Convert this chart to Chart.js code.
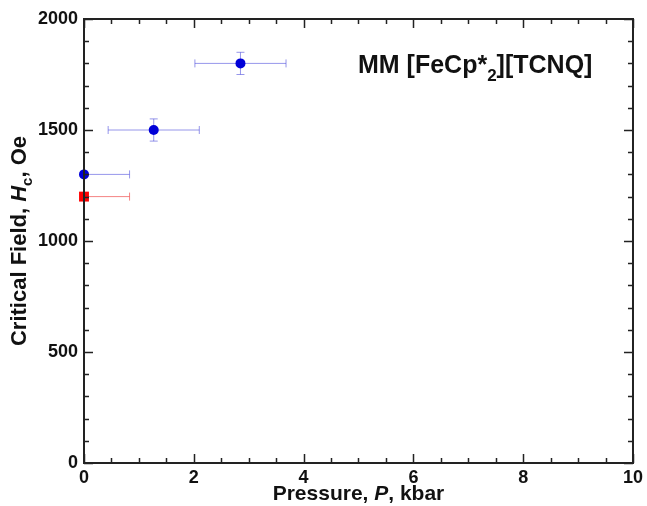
<!DOCTYPE html>
<html>
<head>
<meta charset="utf-8">
<script src="https://cdn.jsdelivr.net/npm/chart.js@4/dist/chart.umd.min.js"></script>
<style>
  html, body { margin: 0; padding: 0; background: #fff; }
  #wrap { width: 647px; height: 506px; }
</style>
</head>
<body>
<div id="wrap"><canvas id="c" width="647" height="506"></canvas></div>
<script>
// data
const bluePressure = [0, 1.27, 2.85];
const blueField    = [1300, 1500, 1800];
const bluePErr     = [0.83, 0.83, 0.83];
const blueFErr     = [0, 50, 50];

const redPressure  = [0];
const redField     = [1200];
const redPErr      = [0.83];
const redFErr      = [0];

const xMajor = [0, 2, 4, 6, 8, 10];
const yMajor = [0, 500, 1000, 1500, 2000];
const xMinorStep = 0.5;
const yMinorStep = 100;

const FONT = '"Liberation Sans", Arial, sans-serif';

function toPoints(xs, ys) {
  let pts = [];
  for (let i = 0; i < xs.length; i++) pts.push({x: xs[i], y: ys[i]});
  return pts;
}

// draw text made of several parts (for italic / subscript)
function drawParts(ctx, parts, x, y, align) {
  let total = 0;
  for (const p of parts) { ctx.font = p.font; total += ctx.measureText(p.text).width; }
  let cx = x;
  if (align === 'center') cx = x - total / 2;
  ctx.textAlign = 'left';
  ctx.textBaseline = 'alphabetic';
  for (const p of parts) {
    ctx.font = p.font;
    ctx.fillText(p.text, cx, y + (p.dy || 0));
    cx += ctx.measureText(p.text).width;
  }
}

const errorBars = {
  id: 'errorBars',
  beforeDatasetsDraw(chart) {
    const ctx = chart.ctx, a = chart.chartArea;
    const xs = chart.scales.x, ys = chart.scales.y;
    ctx.save();
    ctx.beginPath();
    ctx.rect(a.left, a.top, a.right - a.left, a.bottom - a.top);
    ctx.clip();
    chart.data.datasets.forEach(ds => {
      ctx.strokeStyle = ds.errColor;
      ctx.lineWidth = 1;
      ds.data.forEach((p, i) => {
        const px = xs.getPixelForValue(p.x), py = ys.getPixelForValue(p.y);
        const ex = ds.xErr[i], ey = ds.yErr[i];
        const cap = 4;
        if (ex) {
          const l = xs.getPixelForValue(p.x - ex), r = xs.getPixelForValue(p.x + ex);
          ctx.beginPath();
          ctx.moveTo(l, py); ctx.lineTo(r, py);
          ctx.moveTo(l, py - cap); ctx.lineTo(l, py + cap);
          ctx.moveTo(r, py - cap); ctx.lineTo(r, py + cap);
          ctx.stroke();
        }
        if (ey) {
          const t = ys.getPixelForValue(p.y + ey), b = ys.getPixelForValue(p.y - ey);
          ctx.beginPath();
          ctx.moveTo(px, t); ctx.lineTo(px, b);
          ctx.moveTo(px - cap, t); ctx.lineTo(px + cap, t);
          ctx.moveTo(px - cap, b); ctx.lineTo(px + cap, b);
          ctx.stroke();
        }
      });
    });
    ctx.restore();
  }
};

const frame = {
  id: 'frame',
  afterDraw(chart) {
    const ctx = chart.ctx, a = chart.chartArea;
    const xs = chart.scales.x, ys = chart.scales.y;
    ctx.save();
    ctx.strokeStyle = '#222';
    ctx.lineWidth = 1.5;
    ctx.beginPath();
    for (let v = 0; v <= 10.001; v += xMinorStep) {
      const px = Math.round(xs.getPixelForValue(v)) + 0.5;
      const len = xMajor.includes(Math.round(v * 10) / 10) ? 9 : 5;
      ctx.moveTo(px, a.bottom); ctx.lineTo(px, a.bottom - len);
      ctx.moveTo(px, a.top); ctx.lineTo(px, a.top + len);
    }
    for (let v = 0; v <= 2000; v += yMinorStep) {
      const py = Math.round(ys.getPixelForValue(v)) + 0.5;
      const len = yMajor.includes(v) ? 9 : 5;
      ctx.moveTo(a.left, py); ctx.lineTo(a.left + len, py);
      ctx.moveTo(a.right, py); ctx.lineTo(a.right - len, py);
    }
    ctx.stroke();
    ctx.lineWidth = 2;
    ctx.strokeRect(a.left, a.top, a.right - a.left, a.bottom - a.top);

    ctx.fillStyle = '#111';
    // in-plot label
    drawParts(ctx, [
      {text: 'MM [FeCp*', font: 'bold 25px ' + FONT},
      {text: '2', font: 'bold 17px ' + FONT, dy: 8},
      {text: '][TCNQ]', font: 'bold 25px ' + FONT}
    ], 358, 73, 'left');
    // x title
    drawParts(ctx, [
      {text: 'Pressure, ', font: 'bold 21px ' + FONT},
      {text: 'P', font: 'italic bold 21px ' + FONT},
      {text: ', kbar', font: 'bold 21px ' + FONT}
    ], (a.left + a.right) / 2, 500, 'center');
    // y title
    ctx.translate(26, (a.top + a.bottom) / 2);
    ctx.rotate(-Math.PI / 2);
    drawParts(ctx, [
      {text: 'Critical Field, ', font: 'bold 22px ' + FONT},
      {text: 'H', font: 'italic bold 22px ' + FONT},
      {text: 'c', font: 'bold 15px ' + FONT, dy: 6},
      {text: ', Oe', font: 'bold 22px ' + FONT}
    ], 0, 0, 'center');
    ctx.restore();
  }
};

const ctx = document.getElementById('c').getContext('2d');
const chart = new Chart(ctx, {
  type: 'scatter',
  data: {
    datasets: [
      {
        label: 'blue',
        data: toPoints(bluePressure, blueField),
        xErr: bluePErr, yErr: blueFErr,
        errColor: 'rgba(80,80,220,0.6)',
        pointStyle: 'circle', pointRadius: 5, pointHoverRadius: 5,
        backgroundColor: '#0000d8', borderColor: '#0000d8', borderWidth: 0,
        clip: false
      },
      {
        label: 'red',
        data: toPoints(redPressure, redField),
        xErr: redPErr, yErr: redFErr,
        errColor: 'rgba(240,80,80,0.7)',
        pointStyle: 'rect', pointRadius: 7, pointHoverRadius: 7,
        backgroundColor: '#ff0000', borderColor: '#ff0000', borderWidth: 0,
        clip: false
      }
    ]
  },
  options: {
    responsive: false,
    animation: false,
    layout: { padding: { top: 19, right: 9, left: 0, bottom: 0 } },
    plugins: { legend: { display: false }, tooltip: { enabled: false } },
    scales: {
      x: {
        type: 'linear', min: 0, max: 10,
        grid: { display: false, drawTicks: false },
        border: { display: false },
        afterFit: s => { s.height = 43; },
        afterBuildTicks: s => { s.ticks = xMajor.map(v => ({value: v})); },
        ticks: { padding: 4, color: '#111', font: { family: FONT, size: 18, weight: 'bold' }, maxRotation: 0,
                 callback: v => String(v) }
      },
      y: {
        type: 'linear', min: 0, max: 2000,
        grid: { display: false, drawTicks: false },
        border: { display: false },
        afterFit: s => { s.width = 84; },
        afterBuildTicks: s => { s.ticks = yMajor.map(v => ({value: v})); },
        ticks: { padding: 6, color: '#111', font: { family: FONT, size: 18, weight: 'bold' },
                 callback: v => String(v) }
      }
    }
  },
  plugins: [errorBars, frame]
});
</script>
</body>
</html>
